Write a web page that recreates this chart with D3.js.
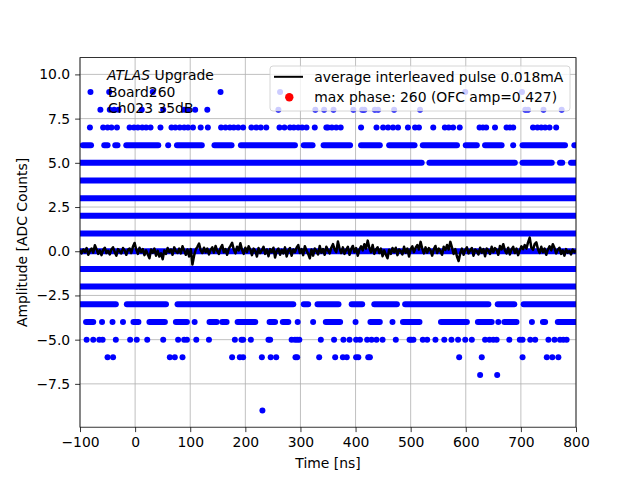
<!DOCTYPE html>
<html>
<head>
<meta charset="utf-8">
<script src="https://cdn.jsdelivr.net/npm/d3@7"></script>
<style>
    body { margin: 0; background: #ffffff; }
</style>
</head>
<body>
<div id="chart"></div>
<script>
// ---- data ----
const xTicks = [-100, 0, 100, 200, 300, 400, 500, 600, 700, 800];
const yTicks = [-7.5, -5, -2.5, 0, 2.5, 5, 7.5, 10];

// single samples per ADC level, time in ns
const dotsP9 = [-81, -47, 32, 155, 263, 599, 702];
const dotsP8 = [-63, -46, -38, -30, 12, 51, 89, 96, 109, 131, 260, 327, 343, 360, 396, 412, 416, 435, 441, 470, 517, 708, 713, 741, 774];
const dotsP7 = [-82, -58, -50, -43, -33, -10, -2, 5, 13, 20, 28, 46, 66, 73, 81, 89, 96, 105, 119, 132, 156, 164, 172, 179, 187, 196,
    211, 220, 228, 238, 262, 271, 281, 288, 296, 303, 311, 326, 347, 350, 357, 365, 373, 410, 438, 450, 459, 468, 477, 495, 508, 515,
    541, 562, 569, 577, 589, 625, 631, 637, 653, 674, 680, 686, 722, 730, 737, 744, 752, 764];
const dotsP6 = [60, 686];
const dotsM4 = [-60, -41, -22, 108, 295, 323, 400, 467, 659, 720];
const dotsM5 = [-88, -76, -65, -59, -35, -9, 3, 22, 51, 78, 89, 94, 111, 134, 181, 193, 196, 210, 242, 245, 284, 290, 294, 298,
    337, 361, 378, 389, 401, 408, 421, 429, 438, 449, 473, 498, 501, 505, 522, 530, 545, 561, 574, 586, 599, 611, 635, 643, 650,
    656, 679, 698, 703, 717, 726, 750, 761, 771, 777, 783];
const dotsM6 = [-50, -40, 63, 72, 86, 176, 190, 196, 230, 246, 256, 291, 294, 334, 363, 377, 384, 401, 405, 423, 426, 588, 629, 703, 747, 757, 768];
const dotsM7 = [626, 657];
const dotsM9 = [231];

// runs of samples so dense they merge into a band: [from, to] in ns
const runsP6 = [[-95, -80], [-56, -50], [-36, -32], [-16, 42], [76, 121], [144, 175], [192, 290], [306, 322], [342, 390], [410, 444],
    [461, 507], [522, 584], [600, 620], [635, 665], [703, 780], [797, 800]];
const runsP5 = [[-100, 520], [534, 689], [703, 756], [771, 775], [791, 800]];
const runsFull = [[-100, 800]];   // levels 4 .. -2
const fullLevels = [4, 3, 2, 1, 0, -1, -2];
const runsM3 = [[-100, -35], [-15, 56], [77, 287], [306, 314], [331, 369], [393, 412], [434, 475], [490, 641], [658, 688], [705, 800]];
const runsM4 = [[-89, -76], [-3, 6], [26, 54], [74, 94], [135, 148], [158, 166], [186, 218], [244, 254], [268, 278], [346, 372],
    [427, 444], [486, 516], [555, 602], [622, 647], [670, 692], [740, 744], [767, 800]];

// average interleaved pulse, one value every 3 ns from -100 ns
const pulseStart = -100;
const pulseStep = 3;
const pulseValues = [
    0.05, -0.12, 0.10, -0.05, 0.18, -0.20, 0.02, 0.15, -0.08, 0.34,
    0.12, -0.15, 0.05, -0.22, 0.08, 0.20, -0.10, 0.03, -0.18, 0.10,
    0.22, -0.05, -0.25, 0.12, 0.00, -0.12, 0.18, 0.05, -0.20, 0.08,
    0.15, -0.10, 0.25, 0.47, 0.10, -0.15, 0.20, -0.05, 0.12, -0.22,
    0.05, -0.18, -0.40, 0.10, -0.08, 0.15, -0.25, 0.02, -0.30, -0.12,
    -0.45, 0.05, -0.15, 0.18, -0.05, 0.10, -0.20, 0.22, 0.00, -0.10,
    0.15, -0.12, 0.28, 0.05, -0.20, 0.10, -0.30, 0.12, -0.75, -0.25,
    0.10, 0.25, 0.43, 0.05, -0.10, 0.20, -0.05, 0.15, -0.18, 0.08,
    0.22, -0.08, 0.30, 0.02, -0.15, 0.18, 0.35, -0.05, 0.12, -0.20,
    0.15, 0.30, 0.47, 0.10, -0.12, 0.25, 0.05, 0.45, 0.08, -0.15,
    0.20, -0.05, 0.28, 0.10, -0.22, 0.15, 0.02, -0.30, 0.18, -0.10,
    0.05, 0.25, -0.15, 0.10, -0.28, 0.12, -0.05, 0.20, -0.35, 0.02,
    0.15, -0.20, 0.08, -0.12, 0.22, -0.30, 0.05, 0.18, -0.25, 0.10,
    -0.05, 0.20, 0.35, -0.10, 0.12, -0.22, 0.28, 0.05, -0.15, -0.40,
    0.10, -0.25, 0.15, 0.02, -0.18, 0.30, -0.08, 0.12, -0.20, 0.25,
    0.05, -0.12, 0.20, 0.40, 0.10, -0.05, 0.55, 0.15, -0.10, 0.22,
    -0.15, 0.08, 0.25, -0.20, 0.12, 0.30, -0.05, 0.18, -0.25, 0.10,
    0.28, 0.05, 0.40, 0.15, 0.60, 0.20, -0.05, 0.35, -0.15, 0.10,
    0.22, -0.10, 0.15, -0.28, 0.05, -0.20, -0.40, 0.08, -0.15, 0.18,
    -0.05, 0.20, -0.22, 0.10, 0.02, -0.18, 0.25, -0.08, 0.15, -0.30,
    0.12, 0.28, -0.05, 0.20, 0.35, 0.10, 0.53, 0.15, -0.12, 0.22,
    -0.08, 0.18, 0.05, -0.25, 0.12, 0.30, -0.10, 0.15, 0.02, -0.20,
    0.25, 0.08, 0.35, 0.10, 0.53, 0.20, -0.15, 0.12, -0.30, -0.55,
    -0.10, 0.15, -0.20, 0.08, 0.22, -0.12, 0.05, 0.18, -0.25, 0.10,
    0.02, -0.18, 0.20, -0.08, 0.12, -0.28, 0.15, 0.05, -0.15, 0.25,
    -0.05, 0.18, 0.08, -0.20, 0.30, 0.10, 0.40, 0.05, -0.12, 0.20,
    -0.18, 0.10, 0.25, -0.10, 0.15, -0.22, 0.05, 0.28, 0.12, 0.35,
    0.15, 0.50, 0.77, 0.20, 0.08, 0.40, 0.50, 0.12, -0.10, 0.25,
    -0.05, 0.15, -0.20, 0.10, 0.28, 0.05, 0.40, 0.18, -0.12, 0.08,
    0.20, -0.15, 0.05, -0.25, 0.12, -0.08, 0.02, -0.18, 0.10, -0.05,
    0.05
];

const legendLabels = ["average interleaved pulse 0.018mA", "max phase: 260 (OFC amp=0.427)"];
const noteLines = ["Upgrade", "Board260", "Ch023 35dB"];

// ---- tables built from the arrays ----
var dotTable = [];
[[9, dotsP9], [8, dotsP8], [7, dotsP7], [6, dotsP6], [-4, dotsM4], [-5, dotsM5], [-6, dotsM6], [-7, dotsM7], [-9, dotsM9]]
    .forEach(function (p) { p[1].forEach(function (t) { dotTable.push({ level: p[0], t: t }); }); });

var runTable = [];
var runGroups = [[6, runsP6], [5, runsP5], [-3, runsM3], [-4, runsM4]];
fullLevels.forEach(function (l) { runGroups.push([l, runsFull]); });
runGroups.forEach(function (p) { p[1].forEach(function (r) { runTable.push({ level: p[0], from: r[0], to: r[1] }); }); });

// ---- chart ----
const font = "'DejaVu Sans', sans-serif";
const margin = { top: 57.6, left: 80 };
const width = 496, height = 369.6;

var svg = d3.select("#chart")
    .append("svg")
    .attr("width", 640)
    .attr("height", 480);

var g = svg.append("g")
    .attr("transform", "translate(" + margin.left + "," + margin.top + ")");

var x = d3.scaleLinear().domain([-100, 800]).range([0, width]);
var y = d3.scaleLinear().domain([-9.95, 10.95]).range([height, 0]);

// grid
g.append("g").selectAll("line").data(xTicks).enter().append("line")
    .attr("x1", d => x(d)).attr("x2", d => x(d))
    .attr("y1", 0).attr("y2", height)
    .style("stroke", "#b0b0b0").style("stroke-width", "0.8px");
g.append("g").selectAll("line").data(yTicks).enter().append("line")
    .attr("x1", 0).attr("x2", width)
    .attr("y1", d => y(d)).attr("y2", d => y(d))
    .style("stroke", "#b0b0b0").style("stroke-width", "0.8px");

svg.append("clipPath").attr("id", "clip")
    .append("rect").attr("width", width).attr("height", height);

var plot = g.append("g").attr("clip-path", "url(#clip)");

// dense bands
plot.append("g").selectAll("line").data(runTable).enter().append("line")
    .attr("x1", d => x(d.from)).attr("x2", d => x(d.to))
    .attr("y1", d => y(d.level)).attr("y2", d => y(d.level))
    .style("stroke", "#0000ff")
    .style("stroke-width", "6px")
    .style("stroke-linecap", "round");

// single samples
plot.append("g").selectAll("circle").data(dotTable).enter().append("circle")
    .attr("cx", d => x(d.t))
    .attr("cy", d => y(d.level))
    .attr("r", 3)
    .style("fill", "#0000ff");

// average pulse
var pulseLine = d3.line()
    .x(function (d, i) { return x(pulseStart + i * pulseStep); })
    .y(function (d) { return y(d); });

plot.append("path")
    .datum(pulseValues)
    .style("fill", "none")
    .style("stroke", "#000000")
    .style("stroke-width", "2.5px")
    .style("stroke-linejoin", "round")
    .attr("d", pulseLine);

// axes
var xAxis = g.append("g")
    .attr("transform", "translate(0," + height + ")")
    .call(d3.axisBottom(x).tickValues(xTicks).tickSize(4.9).tickPadding(4.9).tickFormat(d3.format("d")));
var yAxis = g.append("g")
    .call(d3.axisLeft(y).tickValues(yTicks).tickSize(4.9).tickPadding(4.9).tickFormat(d3.format(".1f")));

[xAxis, yAxis].forEach(function (a) {
    a.select(".domain").remove();
    a.selectAll("line").style("stroke", "#000").style("stroke-width", "0.8px");
    a.selectAll("text").style("font-family", font).style("font-size", "13.9px").style("fill", "#000");
});

g.append("rect")
    .attr("width", width).attr("height", height)
    .style("fill", "none").style("stroke", "#000").style("stroke-width", "0.8px");

svg.append("text")
    .attr("x", margin.left + width / 2).attr("y", 468)
    .style("text-anchor", "middle")
    .style("font-family", font).style("font-size", "13.9px")
    .text("Time [ns]");

svg.append("text")
    .attr("transform", "translate(26.5," + (margin.top + height / 2) + ") rotate(-90)")
    .style("text-anchor", "middle")
    .style("font-family", font).style("font-size", "13.9px")
    .text("Amplitude [ADC Counts]");

// annotation
var note = svg.append("g")
    .style("font-family", font).style("font-size", "13.9px");
var t0 = note.append("text").attr("x", 107).attr("y", 79.5);
t0.append("tspan").style("font-style", "italic").text("ATLAS");
t0.append("tspan").text(" " + noteLines[0]);
note.append("text").attr("x", 108).attr("y", 96.7).text(noteLines[1]);
note.append("text").attr("x", 108).attr("y", 113).text(noteLines[2]);

// legend
var legend = svg.append("g").attr("transform", "translate(270,66)");
legend.append("rect")
    .attr("width", 300).attr("height", 45).attr("rx", 3)
    .style("fill", "#ffffff").style("fill-opacity", 0.8)
    .style("stroke", "#cccccc").style("stroke-width", "0.8px");
legend.append("line")
    .attr("x1", 4).attr("x2", 33).attr("y1", 10.8).attr("y2", 10.8)
    .style("stroke", "#000").style("stroke-width", "2px");
legend.append("circle")
    .attr("cx", 19.3).attr("cy", 31.3).attr("r", 4.2)
    .style("fill", "#ff0000");
legend.selectAll("text").data(legendLabels).enter().append("text")
    .attr("x", 44.3)
    .attr("y", (d, i) => 15.8 + i * 20.5)
    .style("font-family", font).style("font-size", "13.9px")
    .text(d => d);
</script>
</body>
</html>
